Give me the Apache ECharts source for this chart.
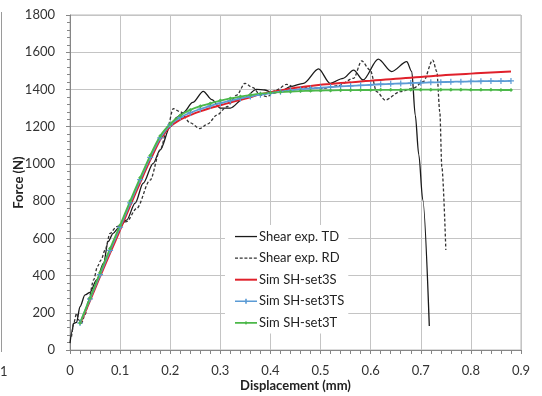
<!DOCTYPE html>
<html>
<head>
<meta charset="utf-8">
<script src="https://cdn.jsdelivr.net/npm/echarts@6/dist/echarts.min.js"></script>
<style>
  html, body { margin: 0; padding: 0; background: #fff; }
  #chart { width: 542px; height: 396px; }
</style>
</head>
<body>
<div id="chart"></div>
<script>
// tick labels
var xTicks = [0, 0.1, 0.2, 0.3, 0.4, 0.5, 0.6, 0.7, 0.8, 0.9];
var yTicks = [0, 200, 400, 600, 800, 1000, 1200, 1400, 1600, 1800];

// experiment, transverse direction (solid black)
var dispTD = [0, 0.004, 0.007, 0.013, 0.02, 0.03, 0.04, 0.053, 0.067, 0.076, 0.086, 0.096, 0.113, 0.13, 0.146,
  0.166, 0.18, 0.2, 0.213, 0.226, 0.245, 0.266, 0.283, 0.3, 0.32, 0.346, 0.372, 0.389, 0.406, 0.422,
  0.44, 0.466, 0.496, 0.519, 0.545, 0.566, 0.585, 0.615, 0.642, 0.672, 0.682, 0.689, 0.696, 0.704, 0.717];
var forceTD = [37, 98, 143, 148, 233, 296, 310, 376, 466, 582, 627, 654, 698, 789, 896,
  1003, 1075, 1200, 1250, 1275, 1330, 1390, 1345, 1300, 1300, 1350, 1400, 1397, 1380, 1392,
  1415, 1433, 1510, 1433, 1460, 1504, 1451, 1563, 1496, 1549, 1496, 1262, 1050, 806, 129];

// experiment, rolling direction (dashed)
var dispRD = [0.003, 0.008, 0.013, 0.018, 0.023, 0.03, 0.038, 0.047, 0.055, 0.062, 0.07, 0.08, 0.093, 0.113, 0.133,
  0.16, 0.18, 0.195, 0.206, 0.22, 0.24, 0.259, 0.275, 0.293, 0.313, 0.333, 0.349, 0.365, 0.38, 0.393,
  0.412, 0.432, 0.45, 0.47, 0.506, 0.535, 0.566, 0.582, 0.599, 0.612, 0.629, 0.659, 0.685, 0.705, 0.724,
  0.732, 0.738, 0.742, 0.75];
var forceRD = [72, 150, 197, 160, 143, 190, 280, 376, 450, 484, 537, 627, 663, 690, 761,
  913, 1075, 1200, 1297, 1280, 1220, 1190, 1215, 1262, 1307, 1370, 1433, 1410, 1370, 1361,
  1397, 1427, 1410, 1408, 1406, 1420, 1460, 1553, 1504, 1388, 1343, 1388, 1406, 1442, 1558,
  1496, 1280, 985, 537];

// simulations
var dispSim = [0.02, 0.04, 0.06, 0.08, 0.10, 0.12, 0.14, 0.16, 0.18, 0.20, 0.22, 0.24, 0.26, 0.28, 0.30,
  0.32, 0.34, 0.36, 0.38, 0.40, 0.42, 0.44, 0.46, 0.48, 0.50, 0.52, 0.54, 0.56, 0.58, 0.60,
  0.62, 0.64, 0.66, 0.68, 0.70, 0.72, 0.74, 0.76, 0.78, 0.80, 0.82, 0.84, 0.86, 0.88];
var force3S = [140, 265, 395, 520, 645, 775, 900, 1020, 1130, 1200, 1238, 1262, 1282, 1300, 1315,
  1330, 1345, 1358, 1375, 1385, 1395, 1405, 1412, 1419, 1425, 1429, 1434, 1438, 1443, 1447,
  1451, 1455, 1459, 1463, 1467, 1471, 1475, 1479, 1482, 1485, 1488, 1491, 1494, 1497];
var force3TS = [145, 275, 405, 535, 660, 790, 915, 1035, 1140, 1210, 1250, 1275, 1295, 1312, 1327,
  1340, 1352, 1362, 1372, 1380, 1388, 1395, 1400, 1405, 1409, 1413, 1416, 1419, 1422, 1425,
  1428, 1430, 1432, 1434, 1436, 1438, 1439, 1441, 1442, 1443, 1444, 1445, 1445, 1446];
var force3T = [145, 280, 415, 545, 670, 800, 925, 1045, 1150, 1215, 1260, 1290, 1310, 1325, 1340,
  1352, 1362, 1370, 1377, 1382, 1386, 1389, 1391, 1393, 1394, 1395, 1396, 1396, 1397, 1397,
  1398, 1398, 1398, 1399, 1399, 1399, 1399, 1399, 1399, 1398, 1398, 1398, 1397, 1397];

function pairs(xs, ys) {
  return xs.map(function (x, i) { return [x, ys[i]]; });
}

var font = 'Lato, "Open Sans", sans-serif';
var plusIcon = 'path://M4,0h2v4h4v2h-4v4h-2v-4h-4v-2h4z';

// legend icons: the first two moves pin the box to 22x12 so the line is not stretched
var box = 'M0,0M22,12';
var iconSolid = 'path://' + box + 'M0,5.4h22v1.3h-22z';
var iconDash = 'path://' + box + 'M0,5.4h3v1.2h-3zM4.7,5.4h3v1.2h-3zM9.4,5.4h3v1.2h-3zM14.1,5.4h3v1.2h-3zM18.8,5.4h3v1.2h-3z';
var iconRed = 'path://' + box + 'M0,5h22v2h-22z';
var iconBlue = 'path://' + box + 'M0,5.2h22v1.6h-22zM10.2,3.5h1.6v5h-1.6z';
var iconGreen = 'path://' + box + 'M0,5.2h22v1.6h-22zM11,4.2L12.8,6L11,7.8L9.2,6z';

var option = {
  animation: false,
  backgroundColor: '#fff',
  textStyle: { fontFamily: font },
  grid: {
    left: 70, right: 21, top: 15, bottom: 46,
    outerBoundsMode: 'none',
    containLabel: false,
    show: true,
    borderColor: '#b8b8b8',
    borderWidth: 1
  },
  legend: {
    orient: 'vertical',
    left: 225, top: 225,
    padding: [5, 4, 4, 10],
    backgroundColor: '#fff',
    itemWidth: 22,
    itemHeight: 12,
    itemGap: 8.6,
    itemStyle: { borderWidth: 0 },
    textStyle: { fontFamily: font, fontSize: 13, color: '#222', padding: [0, 0, 0, -3] },
    data: [
      { name: 'Shear exp. TD', icon: iconSolid },
      { name: 'Shear exp. RD', icon: iconDash },
      { name: 'Sim SH-set3S', icon: iconRed },
      { name: 'Sim SH-set3TS', icon: iconBlue },
      { name: 'Sim SH-set3T', icon: iconGreen }
    ]
  },
  xAxis: {
    type: 'value',
    min: xTicks[0], max: xTicks[xTicks.length - 1], interval: 0.1,
    name: 'Displacement (mm)',
    nameLocation: 'middle',
    nameGap: 29,
    nameMoveOverlap: false,
    nameTextStyle: { fontFamily: font, fontSize: 13, fontWeight: 'bold', color: '#222' },
    axisLine: { lineStyle: { color: '#868686' } },
    axisTick: { show: true, length: 4, lineStyle: { color: '#868686' } },
    minorTick: { show: true, splitNumber: 5, length: 4, lineStyle: { color: '#868686' } },
    axisLabel: { fontFamily: font, fontSize: 13, color: '#333', margin: 14 },
    splitLine: { lineStyle: { color: '#c4c4c4' } }
  },
  yAxis: {
    type: 'value',
    min: yTicks[0], max: yTicks[yTicks.length - 1], interval: 200,
    name: 'Force (N)',
    nameLocation: 'middle',
    nameGap: 45,
    nameMoveOverlap: false,
    nameTextStyle: { fontFamily: font, fontSize: 13, fontWeight: 'bold', color: '#222' },
    axisLine: { show: true, lineStyle: { color: '#868686' } },
    axisTick: { show: true, length: 4, lineStyle: { color: '#868686' } },
    minorTick: { show: true, splitNumber: 5, length: 3, lineStyle: { color: '#868686' } },
    axisLabel: {
      fontFamily: font, fontSize: 13, color: '#333', margin: 15,
      formatter: function (v) { return String(v); }
    },
    splitLine: { lineStyle: { color: '#c4c4c4' } }
  },
  graphic: [
    // edge of the neighbouring chart that the crop cut into
    { type: 'line', shape: { x1: 1.5, y1: 12, x2: 1.5, y2: 352 }, style: { stroke: '#9a9a9a', lineWidth: 1 } },
    { type: 'text', left: 0, top: 365, style: { text: '1', fontFamily: font, fontSize: 13, fill: '#333' } }
  ],
  series: [
    {
      name: 'Shear exp. TD', type: 'line',
      data: pairs(dispTD, forceTD),
      smooth: 0.3, smoothMonotone: 'x',
      symbol: 'none',
      lineStyle: { color: '#1a1a1a', width: 1.3 },
      itemStyle: { color: '#1a1a1a' }
    },
    {
      name: 'Shear exp. RD', type: 'line',
      data: pairs(dispRD, forceRD),
      smooth: 0.3, smoothMonotone: 'x',
      symbol: 'none',
      lineStyle: { color: '#333', width: 1.3, type: [3, 2] },
      itemStyle: { color: '#333' }
    },
    {
      name: 'Sim SH-set3S', type: 'line',
      data: pairs(dispSim, force3S),
      smooth: 0.2,
      symbol: 'none',
      lineStyle: { color: '#e0212b', width: 2 },
      itemStyle: { color: '#e0212b' }
    },
    {
      name: 'Sim SH-set3TS', type: 'line',
      data: pairs(dispSim, force3TS),
      smooth: 0.2,
      symbol: plusIcon, symbolSize: 6,
      lineStyle: { color: '#5b9bd5', width: 1.8 },
      itemStyle: { color: '#5b9bd5' }
    },
    {
      name: 'Sim SH-set3T', type: 'line',
      data: pairs(dispSim, force3T),
      smooth: 0.2,
      symbol: 'diamond', symbolSize: 4,
      lineStyle: { color: '#4cb84a', width: 1.8 },
      itemStyle: { color: '#4cb84a' }
    }
  ]
};

var chart = echarts.init(document.getElementById('chart'));
chart.setOption(option);
</script>
</body>
</html>
